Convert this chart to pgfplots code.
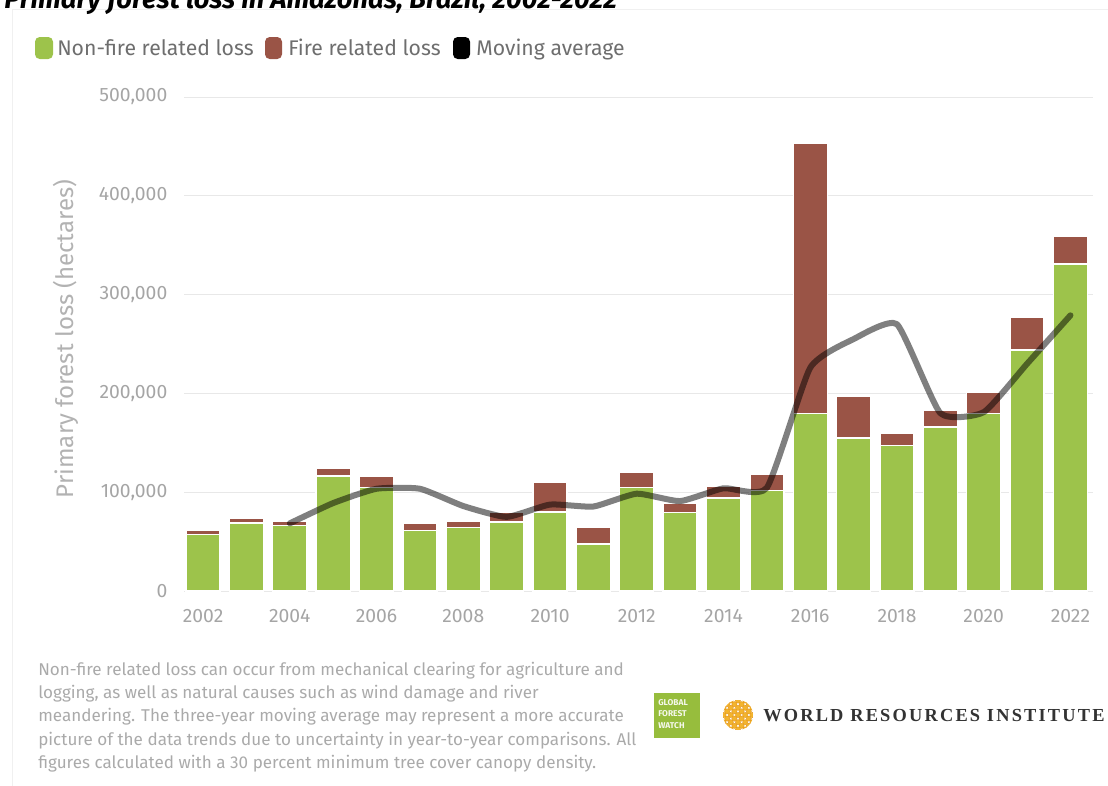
\documentclass[border=0pt]{standalone}
\usepackage{fontspec}
\setmainfont{Fira Sans}
\newfontfamily\wrifont[LetterSpace=12]{Liberation Serif}
\usepackage{pgfplots}
\usepackage{pgfplotstable}
\pgfplotsset{compat=1.18}

\definecolor{nonfire}{RGB}{157,195,75}
\definecolor{fire}{RGB}{154,84,70}
\definecolor{ticktxt}{RGB}{165,165,165}
\definecolor{ylabtxt}{RGB}{178,178,178}
\definecolor{legtxt}{RGB}{110,110,110}
\definecolor{gridc}{RGB}{232,232,232}
\definecolor{notetxt}{RGB}{170,170,170}
\definecolor{gfw}{RGB}{151,189,61}
\definecolor{wriyel}{RGB}{243,180,45}
\definecolor{wrior}{RGB}{228,150,30}

\pgfplotstableread{
year nonfire fire
2002 57500 4000
2003 69000 5000
2004 66500 4000
2005 116500 7500
2006 105000 11000
2007 61500 6500
2008 64500 6000
2009 70000 10000
2010 80000 30000
2011 47500 17000
2012 105000 15000
2013 79500 9000
2014 94000 11500
2015 102000 16500
2016 180000 273000
2017 155000 42000
2018 147000 13000
2019 166000 17000
2020 180000 21000
2021 244000 33000
2022 331000 28000
}\lossdata

\pgfplotstableread{
year avg
2004 68500
2005 89000
2006 103500
2007 103500
2008 86000
2009 75000
2010 87500
2011 85500
2012 98500
2013 91000
2014 104000
2015 104500
2016 226000
2017 255000
2018 270000
2019 180000
2020 181000
2021 230000
2022 279000
}\avgdata

\begin{document}
\begin{tikzpicture}
% bounding box: 1108 x 786 px, 1px = 0.75pt
\path[use as bounding box] (0,0) rectangle (831pt,-589.5pt);

\begin{scope}[x=0.75pt,y=-0.75pt]
% card edges
\draw[black!6, line width=0.75pt] (12,786) -- (12,9) -- (1108,9);
% title (partially cut at the top, as in the reference)
\node[anchor=base west, inner sep=0pt, font=\fontsize{20.5}{24}\bfseries\itshape\selectfont] at (4,8) {Primary forest loss in Amazonas, Brazil, 2002-2022};
% legend
\fill[nonfire, rounded corners=3.5pt] (35,37) rectangle (53,59);
\node[anchor=base west, inner sep=0pt, text=legtxt, font=\fontsize{15.9}{19}\selectfont] at (57,55) {Non-fire related loss};
\fill[fire, rounded corners=3.5pt] (265,37) rectangle (282,59);
\node[anchor=base west, inner sep=0pt, text=legtxt, font=\fontsize{15.9}{19}\selectfont] at (288,55) {Fire related loss};
\fill[black, rounded corners=3.5pt] (453,37) rectangle (470,59);
\node[anchor=base west, inner sep=0pt, text=legtxt, font=\fontsize{15.9}{19}\selectfont] at (476,55) {Moving average};
% y label
\node[rotate=90, text=ylabtxt, font=\fontsize{18}{21}\selectfont, inner sep=0pt] at (66,339) {Primary forest loss (hectares)};
% footnote
\begin{scope}[every node/.style={anchor=base west, inner sep=0pt, text=notetxt, font=\fontsize{12.8}{15}\selectfont}]
\node at (38,675) {Non-fire related loss can occur from mechanical clearing for agriculture and};
\node at (38,698) {logging, as well as natural causes such as wind damage and river};
\node at (38,721) {meandering. The three-year moving average may represent a more accurate};
\node at (38,745) {picture of the data trends due to uncertainty in year-to-year comparisons. All};
\node at (38,768) {figures calculated with a 30 percent minimum tree cover canopy density.};
\end{scope}
% GFW logo
\fill[gfw] (654,693) rectangle (700,738);
\node[anchor=west, inner sep=0pt, text=white!90!gfw, font=\fontsize{6.3}{7}\bfseries\selectfont] at (658,703) {GLOBAL};
\node[anchor=west, inner sep=0pt, text=white!90!gfw, font=\fontsize{6.3}{7}\bfseries\selectfont] at (658,714) {FOREST};
\node[anchor=west, inner sep=0pt, text=white!90!gfw, font=\fontsize{6.3}{7}\bfseries\selectfont] at (658,726) {WATCH};
% WRI flower
\begin{scope}
\clip (738,715) circle (15);
\foreach \i in {-3,...,3}{
  \foreach \j in {-3,...,3}{
    \fill[wriyel, draw=wrior, line width=0.3pt] ({738+(\i-\j)*3.6},{715+(\i+\j)*3.6}) circle (2.6);
  }
}
\end{scope}
% WRI text
\node[anchor=west, inner sep=0pt, text=black!80] at (763,716) {\resizebox{256pt}{!}{\wrifont\bfseries\fontsize{14}{16}\selectfont WORLD RESOURCES INSTITUTE}};
\end{scope}

\begin{axis}[
  at={(138pt,-443.25pt)}, anchor=south west,
  scale only axis, width=681.75pt, height=370.5pt,
  xmin=2001.56, xmax=2022.52, ymin=0, ymax=500000,
  axis line style={draw=none},
  major tick length=0pt,
  ymajorgrids, grid style={gridc, line width=0.75pt},
  ytick={0,100000,200000,300000,400000,500000},
  xtick={2002,2004,...,2022},
  scaled y ticks=false,
  yticklabel style={/pgf/number format/fixed, /pgf/number format/1000 sep={,}, xshift=-9pt},
  xticklabel style={/pgf/number format/1000 sep={}, yshift=-10.5pt},
  /pgf/number format/assume math mode=true,
  tick label style={font=\fontsize{14.5}{17}\selectfont, text=ticktxt},
  ybar stacked, bar width=0.785,
  clip=false,
]
\addplot[fill=nonfire, draw=white, line width=1pt] table[x=year, y=nonfire] {\lossdata};
\addplot[fill=fire, draw=white, line width=1pt] table[x=year, y=fire] {\lossdata};
\end{axis}

\begin{axis}[
  at={(138pt,-443.25pt)}, anchor=south west,
  scale only axis, width=681.75pt, height=370.5pt,
  xmin=2001.56, xmax=2022.52, ymin=0, ymax=500000,
  hide axis, clip=false,
]
\addplot[black, opacity=0.5, line width=4.5pt, smooth, tension=0.3, line cap=round, line join=round] table[x=year, y=avg] {\avgdata};
\end{axis}
\end{tikzpicture}
\end{document}
